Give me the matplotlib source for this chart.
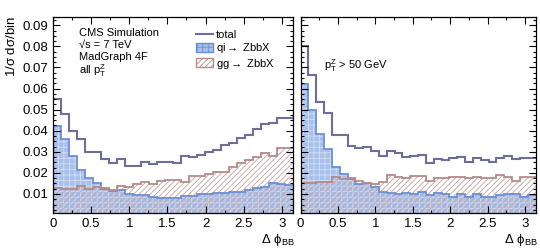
import numpy as np
import matplotlib
matplotlib.use("Agg")
import matplotlib.pyplot as plt
from matplotlib.patches import Patch
from matplotlib.lines import Line2D
from matplotlib.ticker import MultipleLocator, FuncFormatter

plt.rcParams['font.family'] = ['Liberation Sans', 'DejaVu Sans']
plt.rcParams['mathtext.fontset'] = 'custom'
plt.rcParams['mathtext.rm'] = 'Liberation Sans'
plt.rcParams['mathtext.it'] = 'Liberation Sans:italic'
plt.rcParams['mathtext.default'] = 'regular'
plt.rcParams['hatch.linewidth'] = 0.6

# 30 bins in delta phi between the two B hadrons, 0..pi
edges = np.linspace(0, np.pi, 31)

# all pT(Z)
total_all = [0.055, 0.048, 0.040, 0.036, 0.0297, 0.030, 0.0264, 0.0245, 0.0264, 0.0234,
             0.0234, 0.0253, 0.0243, 0.025, 0.025, 0.0245, 0.028, 0.0273, 0.0284, 0.030,
             0.0308, 0.0332, 0.0343, 0.0366, 0.038, 0.0406, 0.043, 0.0435, 0.0458, 0.0458]
qi_all = [0.0422, 0.0363, 0.028, 0.0213, 0.0174, 0.015, 0.0122, 0.0115, 0.0118, 0.010,
          0.0095, 0.0093, 0.0084, 0.0079, 0.0079, 0.0082, 0.009, 0.009, 0.0098, 0.0098,
          0.0103, 0.0103, 0.0107, 0.011, 0.0118, 0.0129, 0.0134, 0.015, 0.0145, 0.0142]
gg_all = [0.0128, 0.0125, 0.0125, 0.014, 0.0122, 0.0134, 0.013, 0.0118, 0.0137, 0.0134,
          0.0145, 0.0155, 0.0145, 0.016, 0.0166, 0.0166, 0.0158, 0.0186, 0.0186, 0.0193,
          0.0202, 0.0205, 0.0229, 0.0245, 0.026, 0.0276, 0.0295, 0.028, 0.0316, 0.0316]

# pT(Z) > 50 GeV
total_50 = [0.080, 0.0664, 0.0537, 0.0485, 0.0379, 0.0379, 0.0327, 0.032, 0.0322, 0.0305,
            0.028, 0.0305, 0.0295, 0.0273, 0.028, 0.0284, 0.0245, 0.0265, 0.026, 0.0272,
            0.0276, 0.0253, 0.0272, 0.026, 0.0253, 0.0272, 0.028, 0.0265, 0.0272, 0.0272]
qi_50 = [0.062, 0.050, 0.0384, 0.0311, 0.0226, 0.0194, 0.0169, 0.0147, 0.0153, 0.0131,
         0.011, 0.0106, 0.010, 0.0106, 0.010, 0.011, 0.0095, 0.0103, 0.010, 0.0087,
         0.010, 0.0087, 0.010, 0.0087, 0.0087, 0.0095, 0.010, 0.010, 0.0087, 0.0093]
gg_50 = [0.015, 0.015, 0.0155, 0.0155, 0.0179, 0.0169, 0.0174, 0.0163, 0.015, 0.0147,
         0.0158, 0.019, 0.0179, 0.0174, 0.0186, 0.0186, 0.0161, 0.0174, 0.0177, 0.0182,
         0.0182, 0.0174, 0.0182, 0.0174, 0.0177, 0.019, 0.0182, 0.0161, 0.0182, 0.0182]

c_total = '#6e6e9c'
c_qi_line = '#6b8fd6'
c_qi_fill = '#a9c0ea'
c_qi_hatch = '#d3def5'
c_gg_line = '#b58a8a'
c_gg_hatch = '#c4a0a0'

fig = plt.figure(figsize=(5.4, 2.52), dpi=100)
ax1 = fig.add_axes([0.098, 0.155, 0.444, 0.778])
ax2 = fig.add_axes([0.5567, 0.155, 0.435, 0.778])

for ax, total, qi, gg in [(ax1, total_all, qi_all, gg_all), (ax2, total_50, qi_50, gg_50)]:
    ax.stairs(qi, edges, fill=True, facecolor=c_qi_fill, edgecolor=c_qi_hatch,
              hatch='+++', lw=0)
    ax.stairs(gg, edges, fill=True, facecolor='none', edgecolor=c_gg_hatch,
              hatch='//////', lw=0)
    ax.stairs(qi, edges, color=c_qi_line, lw=1.3, baseline=None)
    ax.stairs(gg, edges, color=c_gg_line, lw=1.3, baseline=None)
    ax.stairs(total, edges, color=c_total, lw=1.5, baseline=None)

    ax.set_xlim(0, np.pi)
    ax.set_ylim(0.001, 0.094)
    ax.xaxis.set_major_locator(MultipleLocator(0.5))
    ax.xaxis.set_minor_locator(MultipleLocator(0.25))
    ax.yaxis.set_major_locator(MultipleLocator(0.01))
    ax.yaxis.set_minor_locator(MultipleLocator(0.0025))
    ax.xaxis.set_major_formatter(FuncFormatter(lambda v, p: f'{v:g}'))
    ax.tick_params(which='both', direction='in', top=True, right=True,
                   labelsize=9.5, width=0.8)
    ax.tick_params(which='major', length=5)
    ax.tick_params(which='minor', length=2.5)
    for s in ax.spines.values():
        s.set_linewidth(0.9)

ax2.tick_params(labelleft=False)

# labels in left pad
fs = 8
ax1.text(0.108, 0.905, 'CMS Simulation', transform=ax1.transAxes, fontsize=fs, va='baseline')
ax1.text(0.108, 0.843, '\u221as = 7 TeV', transform=ax1.transAxes, fontsize=fs, va='baseline')
ax1.text(0.108, 0.778, 'MadGraph 4F', transform=ax1.transAxes, fontsize=fs, va='baseline')
ax1.text(0.108, 0.71, r'all $p_{T}^{Z}$', transform=ax1.transAxes, fontsize=fs, va='baseline')

handles = [Line2D([], [], color=c_total, lw=1.5),
           Patch(facecolor=c_qi_fill, edgecolor=c_qi_line, hatch='+++'),
           Patch(facecolor='none', edgecolor=c_gg_line, hatch='//////')]
ax1.legend(handles, ['total', r'qi$\rightarrow$ ZbbX', r'gg$\rightarrow$ ZbbX'],
           loc='upper left', bbox_to_anchor=(0.57, 0.97), frameon=False,
           fontsize=fs, handlelength=1.5, handleheight=0.9, handletextpad=0.3,
           labelspacing=0.12, borderpad=0.1)

ax2.text(0.1, 0.735, r'$p_{T}^{Z}$ > 50 GeV', transform=ax2.transAxes, fontsize=fs, va='baseline')

fig.text(0.022, 0.935, r'1/$\sigma$ d$\sigma$/bin', rotation=90, ha='center', va='top', fontsize=9.5)
fig.text(0.483, 0.048, r'$\Delta$ $\phi_{BB}$', fontsize=9.5, ha='left', va='center')
fig.text(0.933, 0.048, r'$\Delta$ $\phi_{BB}$', fontsize=9.5, ha='left', va='center')

fig.savefig('out.png', dpi=100)
